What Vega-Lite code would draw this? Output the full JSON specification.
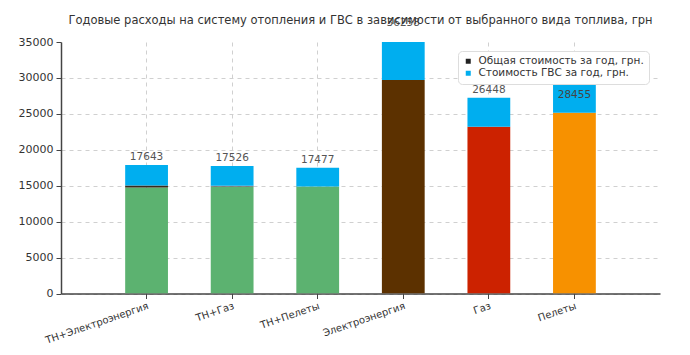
{
  "$schema": "https://vega.github.io/schema/vega-lite/v6.json",
  "width": 599,
  "height": 251.5,
  "autosize": {"type": "none"},
  "padding": {"left": 61, "top": 42, "right": 30, "bottom": 61},
  "background": "white",
  "config": {
    "font": "DejaVu Sans",
    "view": {"stroke": null, "fill": "#fafafa"},
    "axis": {
      "domainColor": "#444",
      "domainWidth": 1.5,
      "tickColor": "#444",
      "tickSize": 5,
      "labelColor": "#333",
      "labelFontSize": 10,
      "labelFont": "DejaVu Sans",
      "gridColor": "#d0d0d0",
      "gridDash": [4, 4],
      "title": null
    },
    "axisY": {"labelFontSize": 11, "labelOverlap": false, "labelFlush": false, "labelPadding": 3}
  },
  "title": {
    "text": "Годовые расходы на систему отопления и ГВС в зависимости от выбранного вида топлива, грн",
    "fontSize": 11.5,
    "fontWeight": "normal",
    "color": "#333",
    "font": "DejaVu Sans",
    "anchor": "middle",
    "offset": -8
  },
  "datasets": {
    "segments": [
      {"fuel": "ТН+Электроэнергия", "segment": "ТН", "level": 1, "value": 14750},
      {"fuel": "ТН+Электроэнергия", "segment": "Линия1", "level": 2, "value": 270},
      {"fuel": "ТН+Электроэнергия", "segment": "ГВС", "level": 3, "value": 2880, "total": 17643},
      {"fuel": "ТН+Газ", "segment": "ТН", "level": 1, "value": 14870},
      {"fuel": "ТН+Газ", "segment": "Линия2", "level": 2, "value": 130},
      {"fuel": "ТН+Газ", "segment": "ГВС", "level": 3, "value": 2740, "total": 17526},
      {"fuel": "ТН+Пелеты", "segment": "ТН", "level": 1, "value": 14880},
      {"fuel": "ТН+Пелеты", "segment": "ГВС", "level": 3, "value": 2620, "total": 17477},
      {"fuel": "Электроэнергия", "segment": "Электроэнергия", "level": 1, "value": 29710},
      {"fuel": "Электроэнергия", "segment": "ГВС", "level": 3, "value": 6800, "total": 36258},
      {"fuel": "Газ", "segment": "Газ", "level": 1, "value": 23210},
      {"fuel": "Газ", "segment": "ГВС", "level": 3, "value": 4040, "total": 26448},
      {"fuel": "Пелеты", "segment": "Пелеты", "level": 1, "value": 25160},
      {"fuel": "Пелеты", "segment": "ГВС", "level": 3, "value": 4550, "total": 28455}
    ],
    "series": [
      {"name": "Общая стоимость за год, грн."},
      {"name": "Стоимость ГВС за год, грн."}
    ]
  },
  "layer": [
    {
      "data": {"name": "segments"},
      "mark": {"type": "bar", "clip": true},
      "encoding": {
        "x": {
          "field": "fuel",
          "type": "nominal",
          "sort": ["ТН+Электроэнергия", "ТН+Газ", "ТН+Пелеты", "Электроэнергия", "Газ", "Пелеты"],
          "scale": {"paddingInner": 0.5, "paddingOuter": 0.75},
          "axis": {"labelAngle": -19, "labelAlign": "right", "labelBaseline": "top", "grid": true, "labelPadding": 2}
        },
        "y": {
          "field": "value",
          "type": "quantitative",
          "stack": "zero",
          "scale": {"domain": [0, 35000], "nice": false},
          "axis": {"values": [0, 5000, 10000, 15000, 20000, 25000, 30000, 35000], "format": "d", "grid": true, "gridOpacity": {"condition": {"test": "datum.value >= 35000", "value": 0}, "value": 1}}
        },
        "order": {"field": "level", "type": "quantitative"},
        "color": {
          "field": "segment",
          "type": "nominal",
          "scale": {
            "domain": ["ТН", "Линия1", "Линия2", "Электроэнергия", "Газ", "Пелеты", "ГВС"],
            "range": ["#5cb270", "#3a2a1a", "#6a6a6a", "#5c3100", "#cc2200", "#f79100", "#00aeef"]
          },
          "legend": null
        }
      }
    },
    {
      "data": {"name": "segments"},
      "transform": [
        {"joinaggregate": [{"op": "sum", "field": "value", "as": "top"}], "groupby": ["fuel"]},
        {"filter": "datum.segment === 'ГВС' && datum.fuel !== 'Пелеты'"}
      ],
      "mark": {"type": "text", "dy": -8, "fontSize": 10.5, "color": "#555", "baseline": "middle"},
      "encoding": {
        "x": {"field": "fuel", "type": "nominal", "sort": ["ТН+Электроэнергия", "ТН+Газ", "ТН+Пелеты", "Электроэнергия", "Газ", "Пелеты"]},
        "y": {"field": "top", "type": "quantitative", "axis": {"values": [0, 5000, 10000, 15000, 20000, 25000, 30000, 35000], "format": "d", "grid": true, "gridOpacity": {"condition": {"test": "datum.value >= 35000", "value": 0}, "value": 1}}},
        "text": {"field": "total", "type": "quantitative", "format": "d"}
      }
    },
    {
      "data": {"name": "segments"},
      "transform": [
        {"joinaggregate": [{"op": "sum", "field": "value", "as": "top"}], "groupby": ["fuel"]},
        {"filter": "datum.segment === 'ГВС' && datum.fuel === 'Пелеты'"}
      ],
      "mark": {"type": "text", "dy": 15, "fontSize": 10.5, "color": "#444", "baseline": "middle"},
      "encoding": {
        "x": {"field": "fuel", "type": "nominal", "sort": ["ТН+Электроэнергия", "ТН+Газ", "ТН+Пелеты", "Электроэнергия", "Газ", "Пелеты"]},
        "y": {"field": "top", "type": "quantitative", "axis": {"values": [0, 5000, 10000, 15000, 20000, 25000, 30000, 35000], "format": "d", "grid": true, "gridOpacity": {"condition": {"test": "datum.value >= 35000", "value": 0}, "value": 1}}},
        "text": {"field": "total", "type": "quantitative", "format": "d"}
      }
    },
    {
      "data": {"name": "series"},
      "mark": {"type": "square", "size": 0, "opacity": 0},
      "encoding": {
        "fill": {
          "field": "name",
          "type": "nominal",
          "scale": {"domain": ["Общая стоимость за год, грн.", "Стоимость ГВС за год, грн."], "range": ["#222222", "#00aeef"]},
          "legend": {
            "title": null,
            "orient": "none",
            "legendX": 397,
            "legendY": 9,
            "fillColor": "white",
            "strokeColor": "#dddddd",
            "cornerRadius": 4,
            "padding": 5,
            "symbolType": "square",
            "symbolSize": 25,
            "symbolOpacity": 1,
            "symbolStrokeWidth": 0,
            "labelFontSize": 10.5,
            "labelColor": "#333",
            "labelFont": "DejaVu Sans",
            "labelLimit": 300,
            "rowPadding": 1,
            "labelOffset": 5
          }
        }
      }
    }
  ]
}
